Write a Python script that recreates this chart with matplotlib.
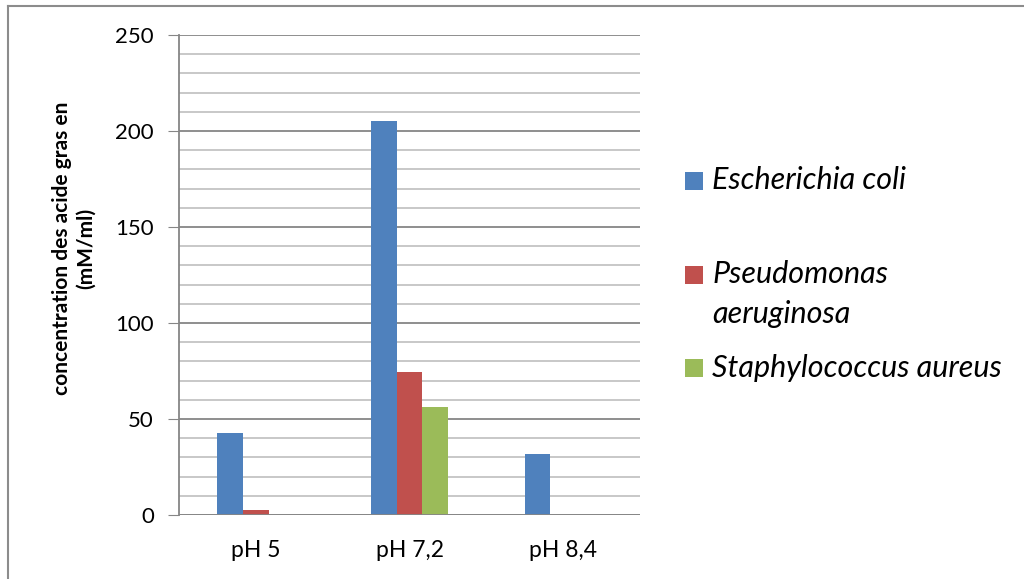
import matplotlib
matplotlib.use("Agg")
import matplotlib.pyplot as plt
from matplotlib.lines import Line2D
from matplotlib.patches import Rectangle
import numpy as np

categories = ["pH 5", "pH 7,2", "pH 8,4"]
series_names = ["Escherichia coli", "Pseudomonas\naeruginosa", "Staphylococcus aureus"]
e_coli = [42.5, 205, 32]
p_aeruginosa = [2.5, 74.5, 0]
s_aureus = [0, 56, 0]
colors = ["#4F81BD", "#C0504D", "#9BBB59"]
yticks = [0, 50, 100, 150, 200, 250]

plt.rcParams['font.family'] = ['Lato', 'DejaVu Sans']

W, H = 1024, 579
fig = plt.figure(figsize=(W / 100, H / 100), dpi=100)
ax = fig.add_axes([179 / W, 1 - 515 / H, (640 - 179) / W, (515 - 35) / H])

x = np.arange(len(categories))
w = 1 / 6
data = [e_coli, p_aeruginosa, s_aureus]
for i, (vals, c) in enumerate(zip(data, colors)):
    ax.bar(x + (i - 1) * w, vals, width=w, color=c, zorder=3, linewidth=0)

ax.set_xlim(-0.5, 2.5)
ax.set_ylim(0, 250)
ax.set_yticks(yticks)
ax.set_yticks(np.arange(0, 251, 10), minor=True)
ax.tick_params(axis='y', which='major', length=8, color='#868686', labelsize=16, pad=10)
ax.tick_params(axis='y', which='minor', length=0)
ax.tick_params(axis='x', length=0, labelsize=16.5, pad=18)
ax.set_xticks(x)
ax.set_xticklabels(categories)
ax.grid(axis='y', which='minor', color='#BFBFBF', linewidth=1.2, zorder=0)
ax.grid(axis='y', which='major', color='#868686', linewidth=1.3, zorder=0)
for s in ['top', 'right', 'bottom']:
    ax.spines[s].set_visible(False)
ax.spines['left'].set_color('#868686')
ax.spines['left'].set_linewidth(1.3)
ax.axhline(0, color='#868686', linewidth=1.3, zorder=4)

# y-axis title
fig.text(74 / W, 1 - 248 / H, "concentration des acide gras en\n(mM/ml)", rotation=90,
         ha='center', va='center', fontsize=15, fontweight='bold', linespacing=1.3,
         multialignment='center')

# legend (manual placement)
sq = 18
legend_rows = [(172, [189]), (266, [283, 323]), (359, [377])]
for (top, baselines), name, c in zip(legend_rows, series_names, colors):
    fig.add_artist(Rectangle((685 / W, 1 - (top + sq) / H), sq / W, sq / H,
                             transform=fig.transFigure, facecolor=c, edgecolor='none'))
    for line, b in zip(name.split("\n"), baselines):
        fig.text(712 / W, 1 - b / H, line, ha='left', va='baseline',
                 fontsize=22, style='italic')

# outer frame
fig.add_artist(Line2D([8 / W, 8 / W], [0, 1 - 6 / H], transform=fig.transFigure,
                      color='#8C8C8C', linewidth=1.5))
fig.add_artist(Line2D([8 / W, 1], [1 - 6 / H, 1 - 6 / H], transform=fig.transFigure,
                      color='#8C8C8C', linewidth=1.5))

fig.savefig("out.png", dpi=100)
